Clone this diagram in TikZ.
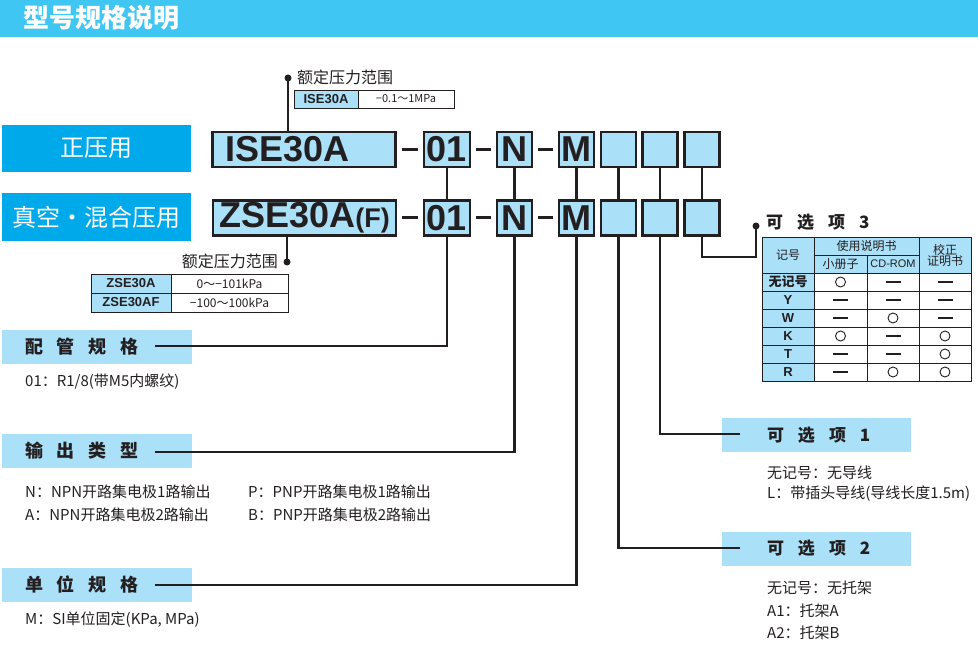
\documentclass[tikz,border=0pt]{standalone}
\usepackage{fontspec}
\setmainfont{Noto Sans CJK SC}
\newfontfamily\lat{Liberation Sans}
\usetikzlibrary{positioning}

\definecolor{barblue}{RGB}{64,198,243}
\definecolor{keyblue}{RGB}{0,170,234}
\definecolor{paleblue}{RGB}{170,224,248}
\definecolor{inkgray}{RGB}{35,31,32}

\newcommand{\fs}[1]{\fontsize{#1}{#1}\selectfont}

\begin{document}
\begin{tikzpicture}[x=1pt,y=-1pt,
    codebox/.style={draw=inkgray, line width=2.4pt, fill=paleblue, minimum width=35pt,
        minimum height=35pt, inner sep=0pt, font=\lat\bfseries\fs{36}, text=inkgray},
    keybox/.style={fill=keyblue, text=white, minimum width=189pt, minimum height=47pt, font=\fs{24}},
    secbox/.style={fill=paleblue, minimum width=190pt, minimum height=34pt, inner xsep=23pt,
        text width=144pt, align=left, font=\bfseries\fs{18}, text=inkgray},
    optbox/.style={fill=paleblue, minimum width=189pt, minimum height=34pt, inner xsep=45pt,
        text width=99pt, align=left, font=\bfseries\fs{17}, text=inkgray},
    link/.style={draw=inkgray, line width=2.2pt},
    dashbar/.style={draw=inkgray, line width=3pt, shorten <=5pt, shorten >=5pt},
    desc/.style={anchor=west, font=\fs{15}, text=inkgray, inner sep=0pt},
    tline/.style={draw=inkgray, line width=0.8pt},
    hasmark/.style={circle, draw=inkgray, line width=0.9pt, minimum size=10pt, inner sep=0pt},
    nomark/.style={fill=inkgray, minimum width=15pt, minimum height=2pt, inner sep=0pt},
]
\useasboundingbox (0,0) rectangle (978,658);

% title bar
\fill[barblue] (0,0) rectangle (978,37);
\node[anchor=west, text=white, font=\bfseries\fs{26}, inner sep=0pt] (title) at (23,18) {型号规格说明};

% series
\node[keybox] (posbox) at (96.5,148.5) {正压用};
\node[keybox] (vacbox) at (96.5,217) {真空・混合压用};

% model code, row 1
\node[codebox, inner xsep=13pt, text width=157pt, align=left] (isebox) at (304,149.5) {ISE30A};
\node[codebox, minimum width=46pt] (o1a) at (447,149.5) {01};
\node[codebox] (na) at (514.5,149.5) {N};
\node[codebox] (ma) at (576.5,149.5) {M};
\node[codebox] (e1a) at (618.5,149.5) {};
\node[codebox] (e2a) at (660,149.5) {};
\node[codebox] (e3a) at (702,149.5) {};

% model code, row 2
\node[codebox, minimum width=183pt] (zsebox) at (304.5,218) {ZSE30A{\fs{27}(F)}};
\node[codebox, minimum width=46pt] (o1b) at (447,218) {01};
\node[codebox] (nb) at (514.5,218) {N};
\node[codebox] (mb) at (576.5,218) {M};
\node[codebox] (e1b) at (618.5,218) {};
\node[codebox] (e2b) at (660,218) {};
\node[codebox] (e3b) at (702,218) {};

\draw[dashbar] (isebox) -- (o1a);
\draw[dashbar] (o1a) -- (na);
\draw[dashbar] (na) -- (ma);
\draw[dashbar] (zsebox) -- (o1b);
\draw[dashbar] (o1b) -- (nb);
\draw[dashbar] (nb) -- (mb);

\foreach \c in {o1,n,m,e1,e2,e3}
    \draw[link] (\c a) -- (\c b);

% rated pressure, ISE30A
\coordinate (isedot) at (288,78);
\draw[link] (isedot) -- (isedot |- isebox.north);
\fill[inkgray] (isedot) circle (3.5);
\node[anchor=west, font=\fs{16}, text=inkgray, inner sep=0pt] (iserange) at (297,77) {额定压力范围};
\fill[paleblue] (294,90) rectangle (358,108);
\draw[tline] (294,90) rectangle (454,108);
\draw[tline] (358,90) -- (358,108);
\node[font=\lat\bfseries\fs{13}, text=inkgray] (isename) at (326,99) {ISE30A};
\node[font=\fs{11}, text=inkgray] (iseval) at (406,99) {−0.1～1MPa};

% rated pressure, ZSE30A(F)
\coordinate (zsedot) at (287,262);
\draw[link] (zsebox.south -| zsedot) -- (zsedot);
\fill[inkgray] (zsedot) circle (3.5);
\node[anchor=east, font=\fs{16}, text=inkgray, inner sep=0pt] (zserange) at (278,261) {额定压力范围};
\fill[paleblue] (91,274) rectangle (171,312);
\draw[tline] (91,274) rectangle (288,312);
\draw[tline] (171,274) -- (171,312);
\draw[tline] (91,293) -- (288,293);
\node[font=\lat\bfseries\fs{13}, text=inkgray] (zsename1) at (131,283.5) {ZSE30A};
\node[font=\lat\bfseries\fs{13}, text=inkgray] (zsename2) at (131,302.5) {ZSE30AF};
\node[font=\fs{12}, text=inkgray] (zseval1) at (229.5,283.5) {0～−101kPa};
\node[font=\fs{12}, text=inkgray] (zseval2) at (229.5,302.5) {−100～100kPa};

% pipe / output / unit
\node[secbox] (pipebox) at (97,346.5) {配\kern14pt管\kern14pt规\kern14pt格};
\node[secbox] (outbox) at (97,451) {输\kern14pt出\kern14pt类\kern14pt型};
\node[secbox] (unitbox) at (97,584.5) {单\kern14pt位\kern14pt规\kern14pt格};
\coordinate (pipeend) at (155,346);
\coordinate (outend) at (155,452);
\coordinate (unitend) at (155,585);
\draw[link] (o1b) |- (pipeend);
\draw[link] (nb) |- (outend);
\draw[link] (mb) |- (unitend);

\node[desc] (pipe01) at (25,382) {01：R1/8(带M5内螺纹)};
\node[desc] (outn) at (25,492) {N：NPN开路集电极1路输出};
\node[desc] (outp) at (248,492) {P：PNP开路集电极1路输出};
\node[desc] (outa) at (25,515) {A：NPN开路集电极2路输出};
\node[desc] (outb) at (248,515) {B：PNP开路集电极2路输出};
\node[desc] (unitm) at (25,620) {M：SI单位固定(KPa, MPa)};

% options 1 and 2
\node[optbox] (opt1box) at (816.5,435) {可\kern14pt选\kern14pt项\kern14pt1};
\node[optbox] (opt2box) at (816.5,548.5) {可\kern14pt选\kern14pt项\kern14pt2};
\coordinate (opt1end) at (740,434);
\coordinate (opt2end) at (740,548);
\draw[link] (e2b) |- (opt1end);
\draw[link] (e1b) |- (opt2end);

\node[desc] (opt1none) at (767,473) {无记号：无导线};
\node[desc] (opt1l) at (767,494) {L：带插头导线(导线长度1.5m)};
\node[desc] (opt2none) at (767,588) {无记号：无托架};
\node[desc] (opt2a1) at (767,611) {A1：托架A};
\node[desc] (opt2a2) at (767,633) {A2：托架B};

% option 3
\coordinate (opt3turn) at (756,257);
\coordinate (opt3dot) at (756,226);
\draw[link] (e3b) |- (opt3turn) -- (opt3dot);
\fill[inkgray] (opt3dot) circle (3.5);
\node[anchor=west, font=\bfseries\fs{17}, text=inkgray, inner sep=0pt] (opt3title) at (766,222)
    {可\kern14pt选\kern14pt项\kern14pt3};

\fill[paleblue] (762,237) rectangle (971,273);
\fill[paleblue] (762,273) rectangle (814,381);
\draw[tline] (762,237) rectangle (971,381);
\draw[tline] (814,255) -- (919,255);
\foreach \y in {273,291,...,363}
    \draw[tline] (762,\y) -- (971,\y);
\draw[tline] (814,237) -- (814,381);
\draw[tline] (867,255) -- (867,381);
\draw[tline] (919,237) -- (919,381);

\node[font=\fs{12}, text=inkgray] (hmark) at (788,255) {记号};
\node[font=\fs{12}, text=inkgray] (hmanual) at (866.5,246) {使用说明书};
\node[font=\fs{12}, text=inkgray] (hbook) at (840.5,264) {小册子};
\node[font=\lat\fs{11}, text=inkgray] (hcd) at (893,264) {CD-ROM};
\node[font=\fs{12}, text=inkgray, align=center, inner sep=0pt] (hcert) at (945,255)
    {\fs{12}校正\\[-1pt]证明书};

\foreach \i/\k/\a/\b/\c in {1/无记号/hasmark/nomark/nomark, 2/\lat Y/nomark/nomark/nomark,
        3/\lat W/nomark/hasmark/nomark, 4/\lat K/hasmark/nomark/hasmark,
        5/\lat T/nomark/nomark/hasmark, 6/\lat R/nomark/hasmark/hasmark}{
    \pgfmathsetmacro{\ry}{264+18*\i}
    \node[font=\bfseries\fs{13}, text=inkgray, inner sep=0pt] (row\i) at (788,\ry) {\k};
    \node[\a] (row\i-book) at (840.5,\ry) {};
    \node[\b] (row\i-cd) at (893,\ry) {};
    \node[\c] (row\i-cert) at (945,\ry) {};
}
\end{tikzpicture}
\end{document}
